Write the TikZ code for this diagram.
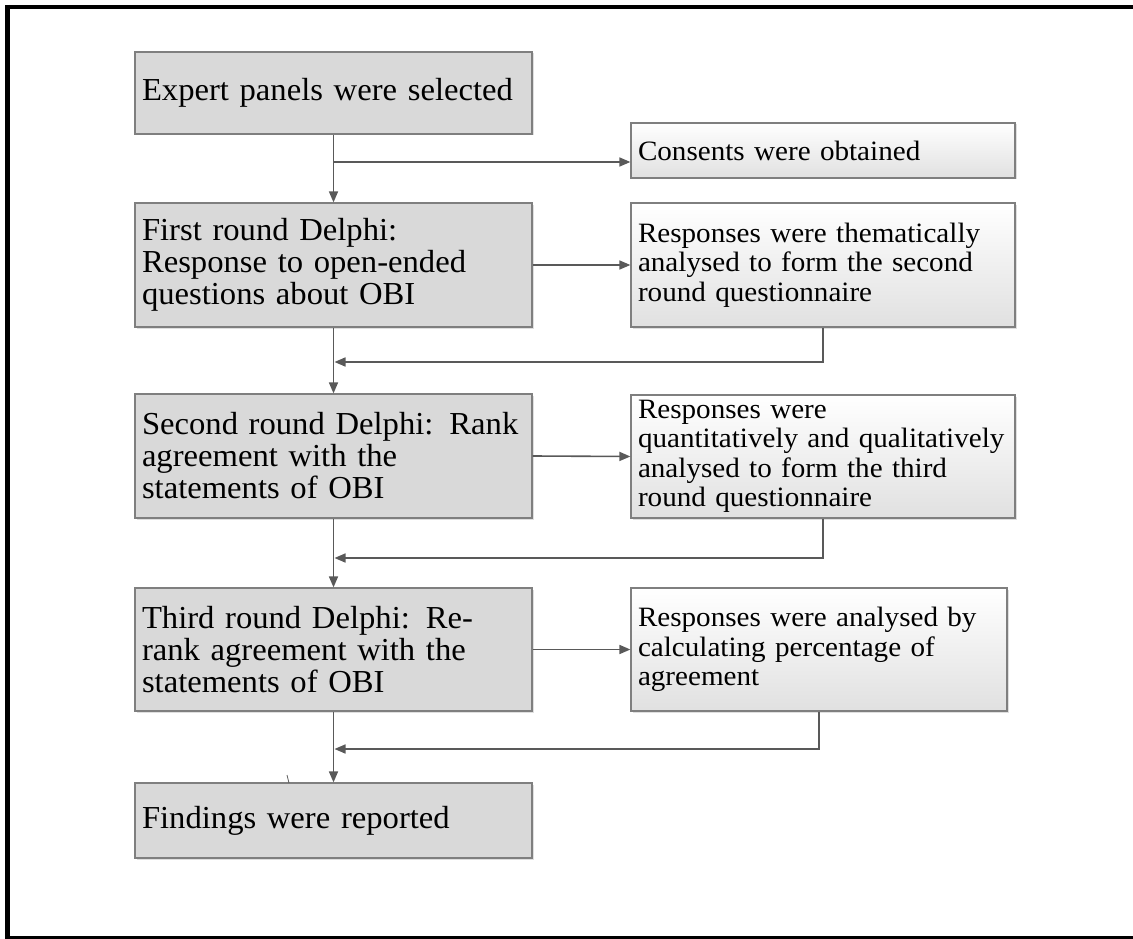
\documentclass[tikz,border=0pt]{standalone}
\usepackage{fontspec}
\setmainfont{Liberation Serif}
\newfontfamily\stagefont{Liberation Serif}[FakeStretch=1.02]
\newfontfamily\notefont{Liberation Serif}[FakeStretch=1.04]
\usetikzlibrary{arrows.meta,shadows}

\definecolor{edgegray}{HTML}{7F7F7F}
\definecolor{linegray}{HTML}{595959}
\definecolor{boxfill}{HTML}{D9D9D9}

\tikzset{
  box/.style={rectangle, draw=edgegray, line width=1.2pt, inner xsep=7pt, inner ysep=0pt,
    align=left, anchor=center,
    drop shadow={shadow xshift=1.5pt, shadow yshift=-1.5pt, opacity=0.25, fill=gray}},
  stagebox/.style={box, fill=boxfill, text width=383pt, minimum width=397pt,
    font=\stagefont\fontsize{32}{32}\selectfont},
  notebox/.style={box, top color=white, bottom color=black!12,
    font=\notefont\fontsize{28}{29.5}\selectfont},
  conn/.style={draw=linegray, line width=1.6pt, -{Triangle[length=11pt,width=9pt]}},
  frameline/.style={draw=black},
}
% one unbreakable line of box text
\newcommand\boxline[1]{\mbox{#1}}

\begin{document}
\begin{tikzpicture}[x=1pt,y=-1pt]
\useasboundingbox (0,0) rectangle (1133,939);

% outer frame (top, left and bottom edges)
\draw[frameline, line width=4pt] (5,7) -- (1133,7);
\draw[frameline, line width=5pt] (7.5,5) -- (7.5,939);
\draw[frameline, line width=2.5pt] (5,937.5) -- (1133,937.5);

% main stages
\node[stagebox, minimum height=82pt] (b1) at (333.5,93) {\boxline{Expert panels were selected}};
\node[stagebox, minimum height=124pt] (b2) at (333.5,265)
  {\boxline{First round Delphi:}\\\boxline{Response to open-ended}\\\boxline{questions about OBI}};
\node[stagebox, minimum height=124pt] (b3) at (333.5,456)
  {\boxline{Second round Delphi: Rank}\\\boxline{agreement with the}\\\boxline{statements of OBI}};
\node[stagebox, minimum height=123pt] (b4) at (333.5,649.5)
  {\boxline{Third round Delphi: Re-}\\\boxline{rank agreement with the}\\\boxline{statements of OBI}};
\node[stagebox, minimum height=75pt] (b5) at (333.5,820.5) {\boxline{Findings were reported}};

% side notes
\node[notebox, text width=370pt, minimum width=384pt, minimum height=55pt] (cons) at (823,150.5)
  {\boxline{Consents were obtained}};
\node[notebox, text width=370pt, minimum width=384pt, minimum height=124pt] (r1) at (823,265)
  {\boxline{Responses were thematically}\\\boxline{analysed to form the second}\\\boxline{round questionnaire}};
\node[notebox, text width=370pt, minimum width=384pt, minimum height=123pt] (r2) at (823,456.5)
  {\boxline{Responses were}\\\boxline{quantitatively and qualitatively}\\\boxline{analysed to form the third}\\\boxline{round questionnaire}};
\node[notebox, text width=362pt, minimum width=376pt, minimum height=123pt] (r3) at (819,649.5)
  {\boxline{Responses were analysed by}\\\boxline{calculating percentage of}\\\boxline{agreement}};

% junction points on the main line
\coordinate (j1) at (333.5,162);
\coordinate (f1) at (334.5,362);
\coordinate (f2) at (334.5,558);
\coordinate (f3) at (334.5,749);

% main flow
\draw[conn] (b1.south) -- (b2.north);
\draw[conn] (b2.south) -- (b3.north);
\draw[conn] (b3.south) -- (b4.north);
\draw[conn] (b4.south) -- (b5.north);

% branches to the side notes
\draw[conn] (j1) -- (j1 -| cons.west);
\draw[conn] (b2.east) -- (r1.west);
\draw[conn] (b3.east) -- (r2.west);
\draw[conn] (b4.east) -- (r3.west);

% feedback into the main line
\draw[conn] (r1.south) |- (f1);
\draw[conn] (r2.south) |- (f2);
\draw[conn] (r3.south) |- (f3);

% small stray stroke above the last box
\draw[linegray, line width=0.8pt] (287,775) -- (289,783);
\end{tikzpicture}
\end{document}
